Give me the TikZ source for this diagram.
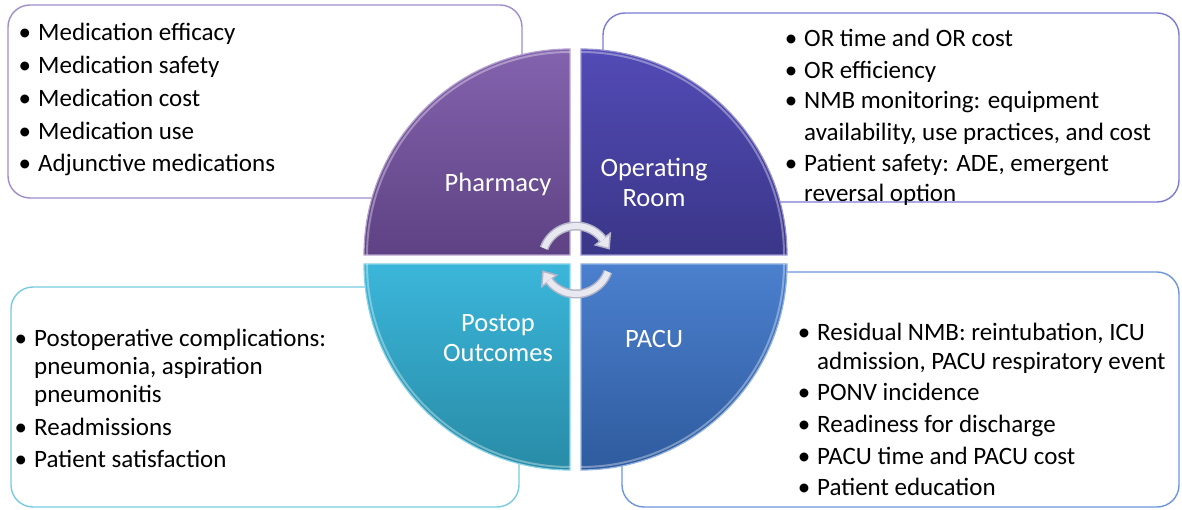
\documentclass[tikz,border=0pt]{standalone}
\usepackage{fontspec}
\setmainfont{Carlito}
\definecolor{phT}{HTML}{8463AE}
\definecolor{phB}{HTML}{5E4284}
\definecolor{orT}{HTML}{534BB6}
\definecolor{orB}{HTML}{3A3688}
\definecolor{poT}{HTML}{3BB6DA}
\definecolor{poB}{HTML}{288BA6}
\definecolor{paT}{HTML}{4B80CE}
\definecolor{paB}{HTML}{2F5B9E}
\definecolor{bxPh}{HTML}{A08DCB}
\definecolor{bxOr}{HTML}{7C7BD2}
\definecolor{bxPo}{HTML}{78CBE0}
\definecolor{bxPa}{HTML}{6B96DA}
\definecolor{arrG}{HTML}{E8E8F1}
\definecolor{arrE}{HTML}{B4B4C8}
\newcommand\bul{\llap{•\hspace{7pt}}}
\begin{document}
\begin{tikzpicture}[x=1pt,y=-1pt,
  box/.style={draw, line width=1.4pt, rounded corners=22pt, fill=white},
  txt/.style={anchor=base west, inner sep=0pt, font=\fontsize{25}{28}\selectfont, text=black},
  lbl/.style={anchor=base, inner sep=0pt, font=\fontsize{26.5}{30}\selectfont, text=white},
  quad/.style={line width=1.2pt},
  hl/.style={white, opacity=0.35, line width=2pt},
  arrw/.style={arrE, line width=9pt},
  arrg/.style={arrG, line width=6pt},
  arrhead/.style={fill=arrG, draw=arrE, line width=1.5pt, line join=miter}]
\useasboundingbox (0,0) rectangle (1182,510);
% boxes
\draw[box, draw=bxPh] (8,5) rectangle (522,198);
\draw[box, draw=bxOr] (603,13) rectangle (1179,202);
\draw[box, draw=bxPo] (11,287) rectangle (519,507);
\draw[box, draw=bxPa] (622,272) rectangle (1179,507);
% quadrants
\path[quad, top color=phT, bottom color=phB, draw=phT!60!white] (570,255) -- (364,255) arc[start angle=180,end angle=270,radius=206] -- cycle;
\path[quad, top color=orT, bottom color=orB, draw=orT!60!white] (581,255) -- (581,49) arc[start angle=270,end angle=360,radius=206] -- cycle;
\path[quad, top color=paT, bottom color=paB, draw=paT!60!white] (581,264) -- (787,264) arc[start angle=0,end angle=90,radius=206] -- cycle;
\path[quad, top color=poT, bottom color=poB, draw=poT!60!white] (570,264) -- (570,470) arc[start angle=90,end angle=180,radius=206] -- cycle;
\draw[hl] (367,255) arc[start angle=180,end angle=270,radius=203];
\draw[hl] (581,52) arc[start angle=270,end angle=360,radius=203];
\draw[hl] (784,264) arc[start angle=0,end angle=90,radius=203];
\draw[hl] (570,467) arc[start angle=90,end angle=180,radius=203];
% circular arrows
\coordinate (c) at (576,260);
\draw[arrw] ([shift={(200:34)}]c) arc[start angle=200,end angle=323,radius=34];
\draw[arrhead] ([shift={(322:43.5)}]c) -- ([shift={(322:24.5)}]c) -- ([shift={(341:35)}]c) -- cycle;
\draw[arrg] ([shift={(200.5:34)}]c) arc[start angle=200.5,end angle=323,radius=34];
\draw[arrw] ([shift={(20:34)}]c) arc[start angle=20,end angle=143,radius=34];
\draw[arrhead] ([shift={(142:43.5)}]c) -- ([shift={(142:24.5)}]c) -- ([shift={(161:35)}]c) -- cycle;
\draw[arrg] ([shift={(20.5:34)}]c) arc[start angle=20.5,end angle=143,radius=34];
% quadrant labels
\node[lbl] (lph) at (498,192) {Pharmacy};
\node[lbl] (lor1) at (654,177) {Operating};
\node[lbl] (lor2) at (654,207) {Room};
\node[lbl] (lpo1) at (498,331) {Postop};
\node[lbl] (lpo2) at (498,361) {Outcomes};
\node[lbl] (lpa) at (654,347) {PACU};
% top-left text
\node[txt] (a1) at (38,41) {\bul Medication efficacy};
\node[txt] (a2) at (38,73.7) {\bul Medication safety};
\node[txt] (a3) at (38,106.4) {\bul Medication cost};
\node[txt] (a4) at (38,139.1) {\bul Medication use};
\node[txt] (a5) at (38,171.8) {\bul Adjunctive medications};
% top-right text
\node[txt] (b1) at (804,47) {\bul OR time and OR cost};
\node[txt] (b2) at (804,79) {\bul OR efficiency};
\node[txt] (b3) at (804,109) {\bul NMB monitoring: equipment};
\node[txt] (b4) at (804,141) {availability, use practices, and cost};
\node[txt] (b5) at (804,172) {\bul Patient safety: ADE, emergent};
\node[txt] (b6) at (804,202) {reversal option};
% bottom-left text
\node[txt] (c1) at (34,346) {\bul Postoperative complications:};
\node[txt] (c2) at (34,374) {pneumonia, aspiration};
\node[txt] (c3) at (34,402) {pneumonitis};
\node[txt] (c4) at (34,435) {\bul Readmissions};
\node[txt] (c5) at (34,467) {\bul Patient satisfaction};
% bottom-right text
\node[txt] (d1) at (817,340) {\bul Residual NMB: reintubation, ICU};
\node[txt] (d2) at (817,369) {admission, PACU respiratory event};
\node[txt] (d3) at (817,400) {\bul PONV incidence};
\node[txt] (d4) at (817,432) {\bul Readiness for discharge};
\node[txt] (d5) at (817,464) {\bul PACU time and PACU cost};
\node[txt] (d6) at (817,495) {\bul Patient education};
\end{tikzpicture}
\end{document}
